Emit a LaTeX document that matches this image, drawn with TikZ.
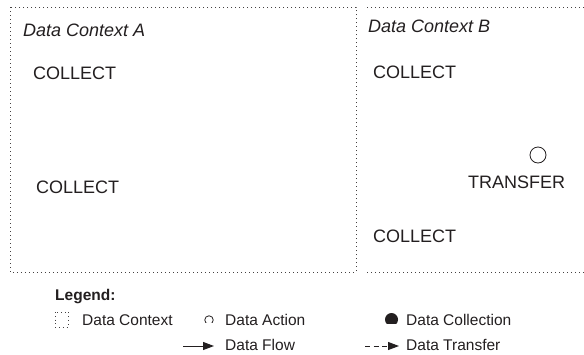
\documentclass[tikz,border=0pt]{standalone}
\usepackage{fontspec}
\setmainfont{Liberation Sans}
\usetikzlibrary{arrows.meta}
\definecolor{ink}{HTML}{231F20}
\tikzset{
  ctx/.style={draw=ink!85, line width=0.9pt, dash pattern=on 0.9pt off 3.1pt},
  big/.style={anchor=base west, inner sep=0pt, text=ink, font=\fontsize{18}{20}\selectfont},
  bigit/.style={big, font=\fontsize{18}{20}\selectfont\itshape},
  leg/.style={anchor=base west, inner sep=0pt, text=ink, font=\fontsize{15.5}{17}\selectfont},
  flow/.style={draw=ink, line width=1pt, -{Triangle[length=11pt,width=8pt]}},
  xfer/.style={flow, dash pattern=on 5pt off 3.5pt}
}
\begin{document}
\begin{tikzpicture}[x=1pt,y=-1pt]
\useasboundingbox[fill=white] (0,0) rectangle (584,354);
% Data Context A
\draw[ctx] (10,7) rectangle (356,272);
% Data Context B (right side runs off the picture)
\coordinate (b1) at (367,7);
\coordinate (b2) at (584,7);
\coordinate (b3) at (367,272);
\coordinate (b4) at (584,272);
\draw[ctx] (b1) -- (b2);
\draw[ctx] (b3) -- (b4);

\node[bigit] (ctxA) at (23,36) {Data Context A};
\node[bigit] (ctxB) at (368,32) {Data Context B};
\node[big] (a1) at (33,79) {COLLECT};
\node[big] (a2) at (36,193) {COLLECT};
\node[big] (bc1) at (373,78) {COLLECT};
\node[big] (bc2) at (373,242) {COLLECT};
\node[draw=ink, line width=0.8pt, circle, minimum size=16pt, inner sep=0pt] (act) at (538,155) {};
\node[big] (tr) at (468,188) {TRANSFER};

% Legend
\node[leg, font=\fontsize{15.5}{17}\selectfont\bfseries] (lg) at (55,300) {Legend:};
\draw[ctx, line width=0.8pt, dash pattern=on 0.8pt off 3pt] (55,312) rectangle (68,327);
\node[leg] (l1) at (82,325) {Data Context};
\begin{scope}
  \clip (195,300) rectangle (410,322.5);
  \node[draw=ink, line width=0.8pt, circle, minimum size=8.5pt, inner sep=0pt] (la) at (209,320) {};
\end{scope}
\begin{scope}
  \clip (195,300) rectangle (410,323);
  \node[fill=ink, circle, minimum size=13pt, inner sep=0pt] (lc) at (391.5,319.5) {};
\end{scope}
\node[leg] (l2) at (225,325) {Data Action};
\node[leg] (l3) at (406,325) {Data Collection};
\coordinate (f1) at (183,346);
\coordinate (f2) at (214,346);
\draw[flow] (f1) -- (f2);
\node[leg] (l4) at (225,350) {Data Flow};
\coordinate (t1) at (365,346);
\coordinate (t2) at (399,346);
\draw[xfer] (t1) -- (t2);
\node[leg] (l5) at (406,350) {Data Transfer};
\end{tikzpicture}
\end{document}
